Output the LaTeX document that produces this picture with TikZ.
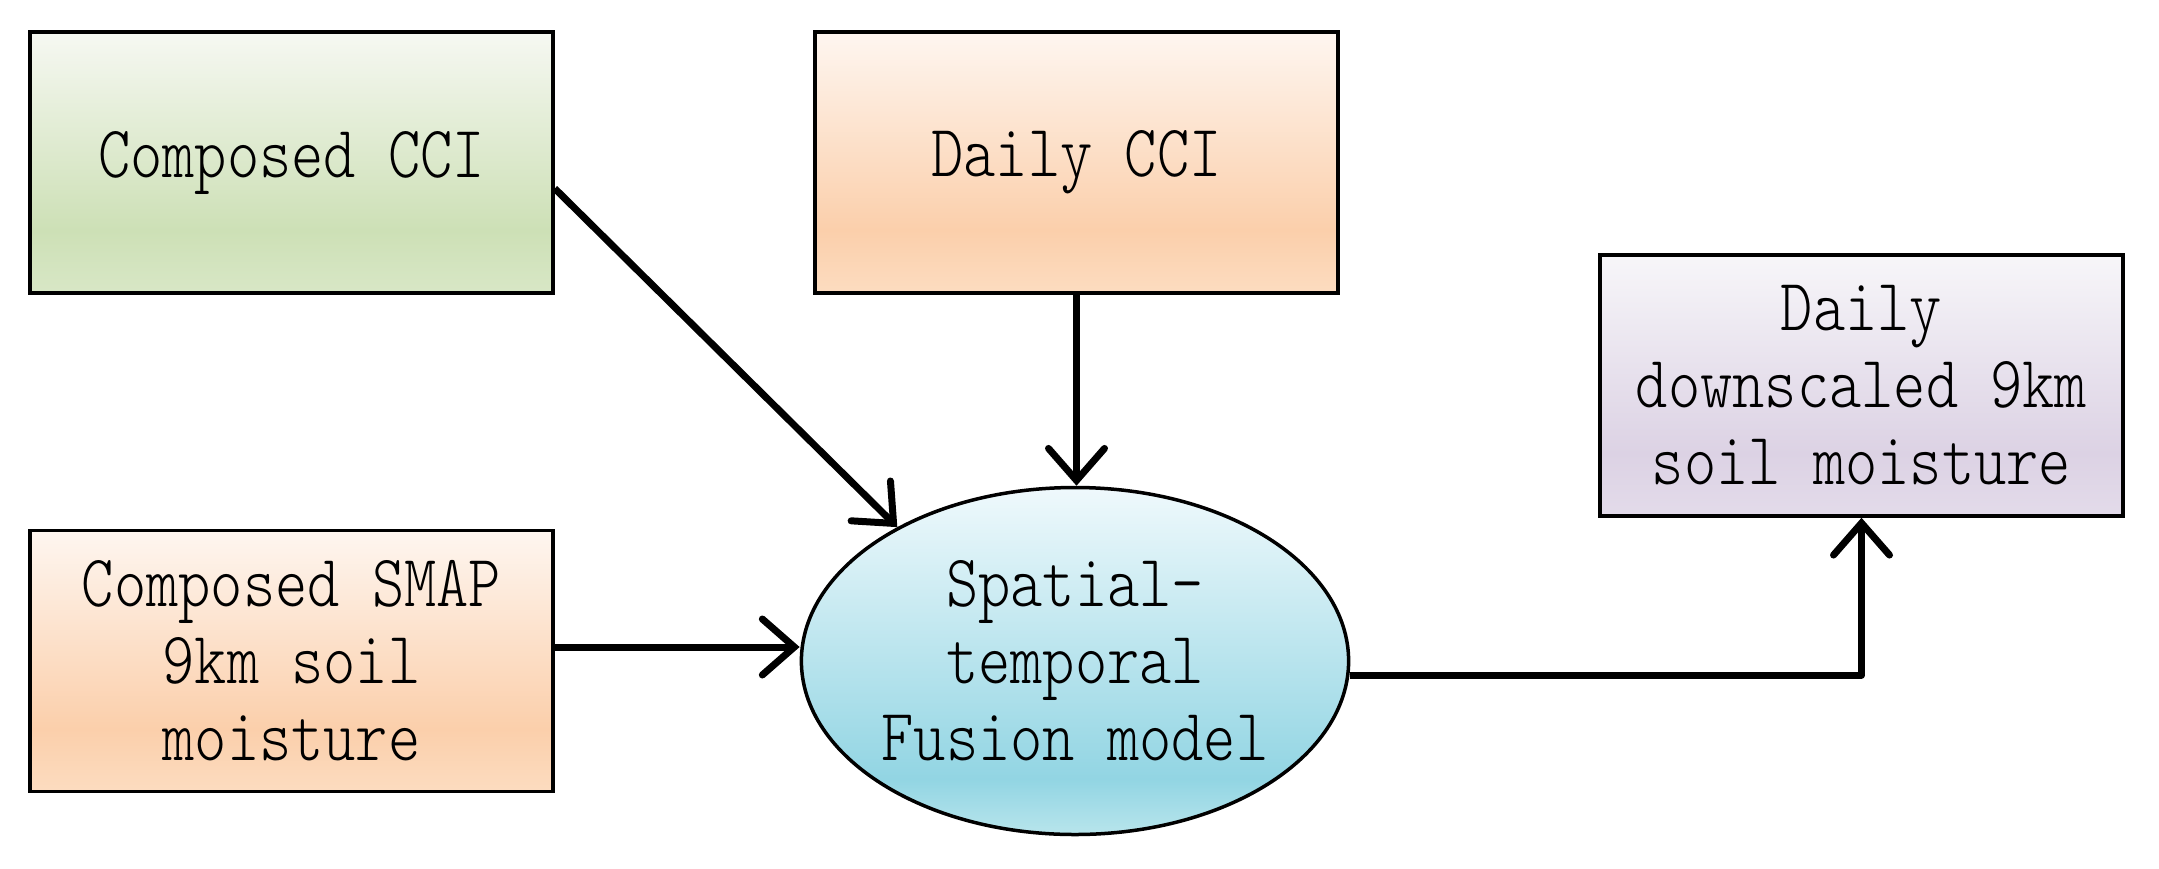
\documentclass[tikz,border=0pt]{standalone}
\usepackage{fontspec}
\usetikzlibrary{arrows.meta,shapes.geometric,calc}
\newfontfamily\diagfont{lmmonolt10-regular.otf}[FakeStretch=0.83]
\definecolor{gT}{HTML}{F6F8F2}
\definecolor{gM}{HTML}{CDE0B6}
\definecolor{gB}{HTML}{D8E7C6}
\definecolor{oT}{HTML}{FEF6F0}
\definecolor{oM}{HTML}{FBCFAB}
\definecolor{oB}{HTML}{FCDCC0}
\definecolor{pT}{HTML}{F7F6F9}
\definecolor{pM}{HTML}{DCD2E4}
\definecolor{pB}{HTML}{E3DBEA}
\definecolor{bT}{HTML}{EFF9FC}
\definecolor{bM}{HTML}{92D5E3}
\definecolor{bB}{HTML}{B8E5EC}
\pgfdeclareverticalshading{greenshade}{100bp}{color(0bp)=(gB); color(25bp)=(gB); color(37bp)=(gM); color(75bp)=(gT); color(100bp)=(gT)}
\pgfdeclareverticalshading{orangeshade}{100bp}{color(0bp)=(oB); color(25bp)=(oB); color(37bp)=(oM); color(75bp)=(oT); color(100bp)=(oT)}
\pgfdeclareverticalshading{purpleshade}{100bp}{color(0bp)=(pB); color(25bp)=(pB); color(37bp)=(pM); color(75bp)=(pT); color(100bp)=(pT)}
\pgfdeclareverticalshading{blueshade}{100bp}{color(0bp)=(bB); color(25bp)=(bB); color(33bp)=(bM); color(75bp)=(bT); color(100bp)=(bT)}
\begin{document}
\begin{tikzpicture}[x=1pt,y=-1pt,
  box/.style={draw=black, line width=3.5pt, rectangle, minimum width=523pt, minimum height=261pt,
    inner sep=0pt, align=center, font=\diagfont\fontsize{74}{77}\selectfont},
  ell/.style={draw=black, line width=3.5pt, ellipse, minimum width=540pt, minimum height=347pt,
    inner sep=0pt, align=center, font=\diagfont\fontsize{74}{77}\selectfont, shading=blueshade},
  conn/.style={line width=7pt, line join=round, -{Straight Barb[length=32pt,width=56pt,line cap=round]}}]
\useasboundingbox (0,0) rectangle (2159,868);
\node[box, shading=greenshade] (cci) at (291.5,162.5) {Composed CCI};
\node[box, shading=orangeshade] (daily) at (1076.5,162.5) {Daily CCI};
\node[box, shading=orangeshade] (smap) at (291.5,661) {Composed SMAP\\9km soil\\moisture};
\node[box, shading=purpleshade] (down) at (1861.5,385.5) {Daily\\downscaled 9km\\soil moisture};
\node[ell] (fus) at (1075,661) {Spatial-\\temporal\\Fusion model};
\coordinate (c1) at ([yshift=-26pt]cci.east);
\coordinate (s1) at ([yshift=14pt]smap.east);
\coordinate (e1) at ([yshift=-14pt]fus.east);
\draw[conn] (c1) -- (fus.143.5);
\draw[conn] (daily.south) -- (daily.south |- fus.north);
\draw[conn] (s1) -- (s1 -| fus.west);
\draw[conn] (e1) -| (down.south);
\end{tikzpicture}
\end{document}
